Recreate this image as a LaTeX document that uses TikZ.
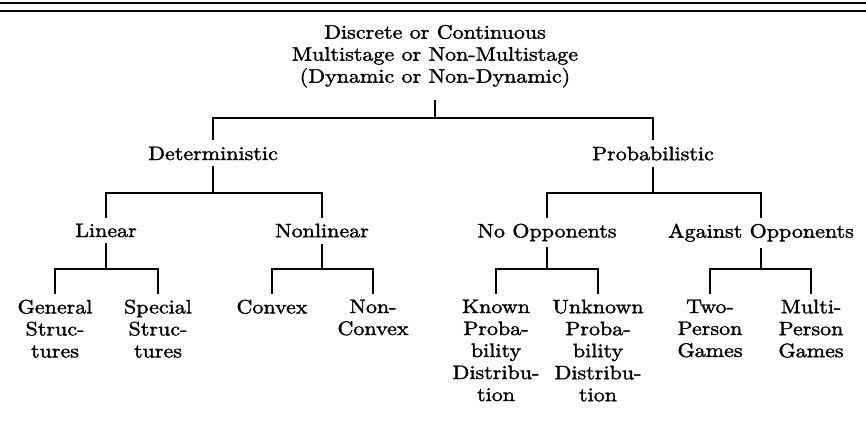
\documentclass[tikz,border=0pt]{standalone}
\usepackage{fontspec}
\setmainfont{lmroman10-regular.otf}[FakeStretch=1.13,FakeBold=1.6]
\begin{document}
\begin{tikzpicture}[x=1pt,y=-1pt,
  lbl/.style={align=center,inner xsep=0pt,inner ysep=6pt,anchor=north,
              font=\fontsize{19.5}{22}\selectfont},
  link/.style={line width=1.2pt},
  rule/.style={line width=1.5pt}]
\useasboundingbox (0,0) rectangle (866,422);

% double rule across the top
\draw[rule] (0,3) -- (866,3);
\draw[rule] (0,11) -- (866,11);

% root
\node[lbl,inner ysep=12pt] (root) at (435,12.7)
  {Discrete or Continuous\\Multistage or Non-Multistage\\(Dynamic or Non-Dynamic)};

% second level
\node[lbl] (det)  at (213,140.5) {Deterministic};
\node[lbl] (prob) at (653,140.5) {Probabilistic};

% third level
\node[lbl] (lin)     at (106,217.5) {Linear};
\node[lbl] (nonlin)  at (322,217.5) {Nonlinear};
\node[lbl] (noopp)   at (547,217.5) {No Opponents};
\node[lbl] (against) at (761,217.5) {Against Opponents};

% leaves
\node[lbl] (gen)     at (55,293.5)  {General\\Struc-\\tures};
\node[lbl] (spec)    at (158,293.5) {Special\\Struc-\\tures};
\node[lbl] (conv)    at (272,293.5) {Convex};
\node[lbl] (nconv)   at (373,293.5) {Non-\\Convex};
\node[lbl] (known)   at (496,293.5) {Known\\Proba-\\bility\\Distribu-\\tion};
\node[lbl] (unknown) at (598,293.5) {Unknown\\Proba-\\bility\\Distribu-\\tion};
\node[lbl] (two)     at (710,293.5) {Two-\\Person\\Games};
\node[lbl] (multi)   at (811,293.5) {Multi-\\Person\\Games};

% heights of the horizontal bars
\coordinate (barA) at (0,118);
\coordinate (barB) at (0,193);
\coordinate (barC) at (0,269);

% root -> deterministic / probabilistic
\draw[link] (root.south) -- (root.south |- barA);
\draw[link] (det.north) -- (det.north |- barA) -- (prob.north |- barA) -- (prob.north);

% deterministic -> linear / nonlinear
\draw[link] (det.south) -- (det.south |- barB);
\draw[link] (lin.north) -- (lin.north |- barB) -- (nonlin.north |- barB) -- (nonlin.north);

% probabilistic -> no opponents / against opponents
\draw[link] (prob.south) -- (prob.south |- barB);
\draw[link] (noopp.north) -- (noopp.north |- barB) -- (against.north |- barB) -- (against.north);

% linear -> structures
\draw[link] (lin.south) -- (lin.south |- barC);
\draw[link] (gen.north) -- (gen.north |- barC) -- (spec.north |- barC) -- (spec.north);

% nonlinear -> convexity
\draw[link] (nonlin.south) -- (nonlin.south |- barC);
\draw[link] (conv.north) -- (conv.north |- barC) -- (nconv.north |- barC) -- (nconv.north);

% no opponents -> distributions
\draw[link] (noopp.south) -- (noopp.south |- barC);
\draw[link] (known.north) -- (known.north |- barC) -- (unknown.north |- barC) -- (unknown.north);

% against opponents -> games
\draw[link] (against.south) -- (against.south |- barC);
\draw[link] (two.north) -- (two.north |- barC) -- (multi.north |- barC) -- (multi.north);
\end{tikzpicture}
\end{document}
